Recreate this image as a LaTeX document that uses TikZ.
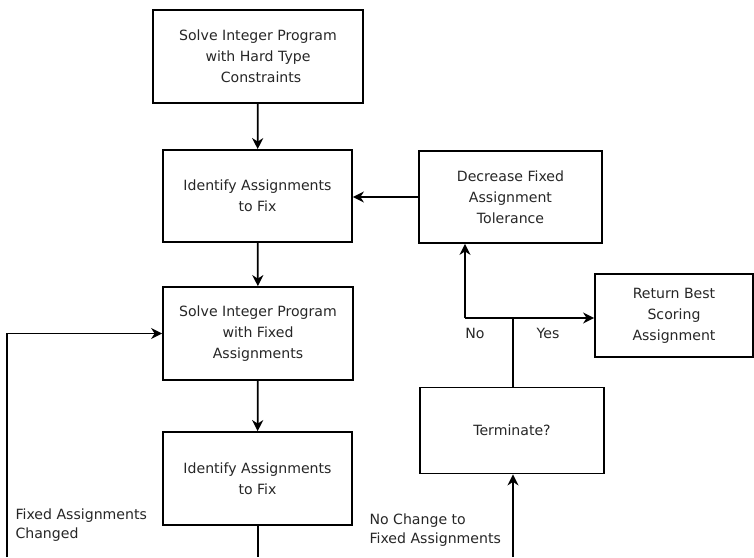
\documentclass[tikz,border=0pt]{standalone}
\usepackage{fontspec}
\setmainfont{DejaVu Sans}
\usepackage{tikz}
\usetikzlibrary{arrows.meta,positioning}

\tikzset{
	procbox/.style={draw, line width=1.8pt, align=center, inner sep=0pt,
		text=black!85, font=\fontsize{14.1}{21}\selectfont},
	flowarrow/.style={line width=1.8pt, -{Stealth[length=11pt,width=11pt,inset=3.5pt]}},
	flowline/.style={line width=1.8pt},
	flowlabel/.style={text=black!85, font=\fontsize{14.1}{19}\selectfont, align=left}
}

\begin{document}
\begin{tikzpicture}[x=1pt, y=-1pt]
		\useasboundingbox (0,0) rectangle (754,557);
		
		% left column
		\node[procbox, minimum width=210pt, minimum height=93pt] (hardip) at (258,56.5)
			{Solve Integer Program\\with Hard Type\\\hspace*{6pt}Constraints};
		\node[procbox, minimum width=189pt, minimum height=92pt] (fixone) at (257.5,196)
			{Identify Assignments\\to Fix};
		\node[procbox, minimum width=190pt, minimum height=93pt] (fixedip) at (258,333.5)
			{Solve Integer Program\\with Fixed\\Assignments};
		\node[procbox, minimum width=189pt, minimum height=93pt] (fixtwo) at (257.5,478.5)
			{Identify Assignments\\to Fix};
		
		% right column
		\node[procbox, minimum width=183pt, minimum height=92pt] (tolerance) at (510.5,197)
			{Decrease Fixed\\Assignment\\Tolerance};
		\node[procbox, minimum width=158pt, minimum height=83pt] (best) at (674,315.5)
			{Return Best\\Scoring\\Assignment};
		\node[procbox, minimum width=184pt, minimum height=86pt] (terminate) at (512,430.5)
			{Terminate?};
		
		\coordinate (split) at (513,318);
		\coordinate (nobend) at (465,318);
		\coordinate (loopfoot) at (7,557);
		\coordinate (fixfoot) at (258,557);
		\coordinate (termfoot) at (513,557);
		
		\draw[flowarrow] (hardip) -- (fixone);
		\draw[flowarrow] (fixone) -- (fixedip);
		\draw[flowarrow] (fixedip) -- (fixtwo);
		\draw[flowarrow] (tolerance.west) -- (tolerance.west -| fixone.east);
		
		% decision branches
		\draw[flowline] (terminate.north -| split) -- (split);
		\draw[flowline] (split) -- (nobend);
		\draw[flowarrow] (nobend) -- (nobend |- tolerance.south);
		\draw[flowarrow] (split) -- (split -| best.west);
		\node[flowlabel] (nolabel) at (475,333) {No};
		\node[flowlabel] (yeslabel) at (548,333) {Yes};
		
		% loops running off the bottom
		\draw[flowline] (fixtwo.south -| fixfoot) -- (fixfoot);
		\draw[flowarrow] (loopfoot) |- (fixedip.west);
		\draw[flowarrow] (termfoot) -- (termfoot |- terminate.south);
		\node[flowlabel, anchor=west] (changed) at (12,525.5) {Fixed Assignments\\Changed};
		\node[flowlabel, anchor=west] (nochange) at (366,530.5) {No Change to\\Fixed Assignments};
	\end{tikzpicture}
\end{document}
